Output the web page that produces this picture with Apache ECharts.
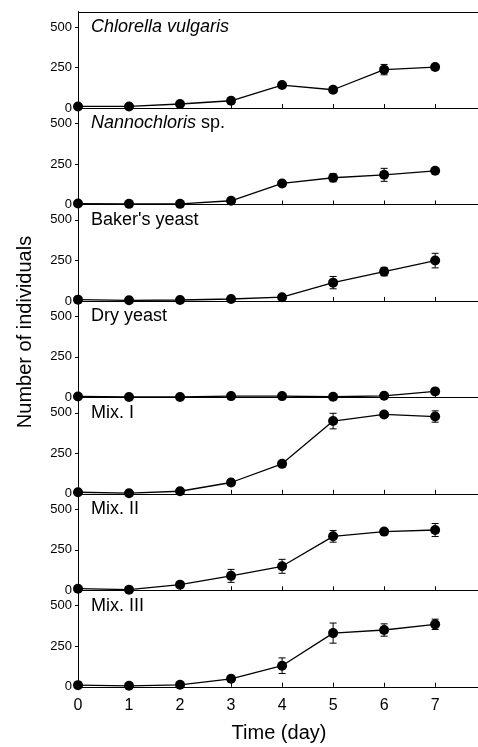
<!DOCTYPE html>
<html>
<head>
<meta charset="utf-8">
<script src="https://cdn.jsdelivr.net/npm/echarts@6/dist/echarts.min.js"></script>
<style>
  html, body { margin: 0; padding: 0; background: #fff; }
  #chart { width: 478px; height: 747px; }
</style>
</head>
<body>
<div id="chart"></div>
<script>
// Population growth of rotifers fed different diets (mean ± error)
const days = [0, 1, 2, 3, 4, 5, 6, 7];
const dayLabels = ['0', '1', '2', '3', '4', '5', '6', '7'];
const yTicks = [0, 250, 500];

const chlorella    = [10, 10, 25, 45, 142, 113, 237, 253];
const chlorellaErr = [3, 3, 5, 5, 12, 10, 32, 12];
const nanno        = [6, 4, 4, 23, 130, 165, 183, 208];
const nannoErr     = [3, 2, 2, 5, 10, 25, 40, 10];
const baker        = [8, 4, 6, 12, 23, 113, 181, 249];
const bakerErr     = [3, 2, 3, 5, 8, 38, 26, 45];
const dry          = [6, 3, 3, 8, 8, 4, 10, 37];
const dryErr       = [3, 2, 2, 3, 3, 3, 5, 15];
const mix1         = [10, 4, 16, 70, 185, 449, 490, 477];
const mix1Err      = [3, 2, 5, 10, 12, 48, 10, 35];
const mix2         = [10, 4, 35, 89, 148, 333, 362, 372];
const mix2Err      = [3, 2, 8, 40, 43, 36, 12, 40];
const mix3         = [10, 6, 12, 49, 130, 331, 350, 385];
const mix3Err      = [3, 3, 5, 10, 48, 62, 38, 32];

const panels = [
  { label: '{i|Chlorella vulgaris}', values: chlorella, err: chlorellaErr },
  { label: '{i|Nannochloris} sp.',   values: nanno,     err: nannoErr },
  { label: "Baker's yeast",          values: baker,     err: bakerErr },
  { label: 'Dry yeast',              values: dry,       err: dryErr },
  { label: 'Mix. I',                 values: mix1,      err: mix1Err },
  { label: 'Mix. II',                values: mix2,      err: mix2Err },
  { label: 'Mix. III',               values: mix3,      err: mix3Err }
];

const FONT = 'Liberation Sans, Arial, Helvetica, sans-serif';
const Y_MAX = 595;
const X_MAX = 7.84;
const PANEL_TOP = 11.6;
const PANEL_H = 96.45;
const LEFT = 78;
const WIDTH = 400;

const grid = [], xAxis = [], yAxis = [], series = [], graphic = [];

panels.forEach((p, k) => {
  const top = PANEL_TOP + PANEL_H * k;
  const last = k === panels.length - 1;
  grid.push({ left: LEFT, width: WIDTH, top: top, height: PANEL_H });

  xAxis.push({
    type: 'value', gridIndex: k, min: 0, max: X_MAX,
    axisLine: { show: true, onZero: false, lineStyle: { color: '#000', width: 1 } },
    axisTick: { show: true, inside: true, length: 4, customValues: days,
                lineStyle: { color: '#000', width: 1 } },
    axisLabel: { show: last, customValues: days, margin: 11,
                 formatter: v => dayLabels[days.indexOf(v)] ?? '',
                 color: '#000', fontFamily: FONT, fontSize: 16 },
    splitLine: { show: false }
  });

  yAxis.push({
    type: 'value', gridIndex: k, min: 0, max: Y_MAX,
    axisLine: { show: true, lineStyle: { color: '#000', width: 1 } },
    axisTick: { show: true, inside: false, length: 3, customValues: yTicks,
                lineStyle: { color: '#000', width: 1 } },
    axisLabel: { customValues: yTicks, margin: 6, color: '#000',
                 fontFamily: FONT, fontSize: 13 },
    splitLine: { show: false }
  });

  // error bars with caps
  series.push({
    type: 'custom', xAxisIndex: k, yAxisIndex: k, silent: true, z: 2,
    data: days.map((d, i) => [d, p.values[i] - p.err[i], p.values[i] + p.err[i]]),
    renderItem: (params, api) => {
      const lo = api.coord([api.value(0), api.value(1)]);
      const hi = api.coord([api.value(0), api.value(2)]);
      const cap = 3.5;
      const st = { stroke: '#000', lineWidth: 1 };
      return {
        type: 'group',
        children: [
          { type: 'line', shape: { x1: lo[0], y1: lo[1], x2: hi[0], y2: hi[1] }, style: st },
          { type: 'line', shape: { x1: lo[0] - cap, y1: lo[1], x2: lo[0] + cap, y2: lo[1] }, style: st },
          { type: 'line', shape: { x1: hi[0] - cap, y1: hi[1], x2: hi[0] + cap, y2: hi[1] }, style: st }
        ]
      };
    }
  });

  series.push({
    type: 'line', xAxisIndex: k, yAxisIndex: k, z: 3,
    data: days.map((d, i) => [d, p.values[i]]),
    symbol: 'circle', symbolSize: 10, showSymbol: true,
    itemStyle: { color: '#000' },
    lineStyle: { color: '#000', width: 1.3 }
  });

  // panel caption, centred on the 500 level
  const y500 = top + PANEL_H * (Y_MAX - 500) / Y_MAX;
  graphic.push({
    type: 'text', left: 91, top: y500 - 9,
    style: {
      text: p.label, fill: '#000', font: '18px ' + FONT,
      rich: { i: { fontStyle: 'italic', fontSize: 18, fontFamily: FONT, fill: '#000' } }
    }
  });
});

// frame line along the top of the first panel
graphic.push({
  type: 'line', silent: true,
  shape: { x1: LEFT, y1: Math.round(PANEL_TOP) + 0.5, x2: LEFT + WIDTH, y2: Math.round(PANEL_TOP) + 0.5 },
  style: { stroke: '#000', lineWidth: 1 }
});

graphic.push({
  type: 'text', x: 279, y: 733,
  style: { text: 'Time (day)', fill: '#000', font: '20px ' + FONT,
           align: 'center', verticalAlign: 'middle' }
});
graphic.push({
  type: 'text', x: 25, y: 332, rotation: Math.PI / 2,
  style: { text: 'Number of individuals', fill: '#000', font: '20px ' + FONT,
           align: 'center', verticalAlign: 'middle' }
});

const chart = echarts.init(document.getElementById('chart'), null, { renderer: 'canvas' });
chart.setOption({
  backgroundColor: '#fff',
  animation: false,
  grid, xAxis, yAxis, series, graphic
});
</script>
</body>
</html>
